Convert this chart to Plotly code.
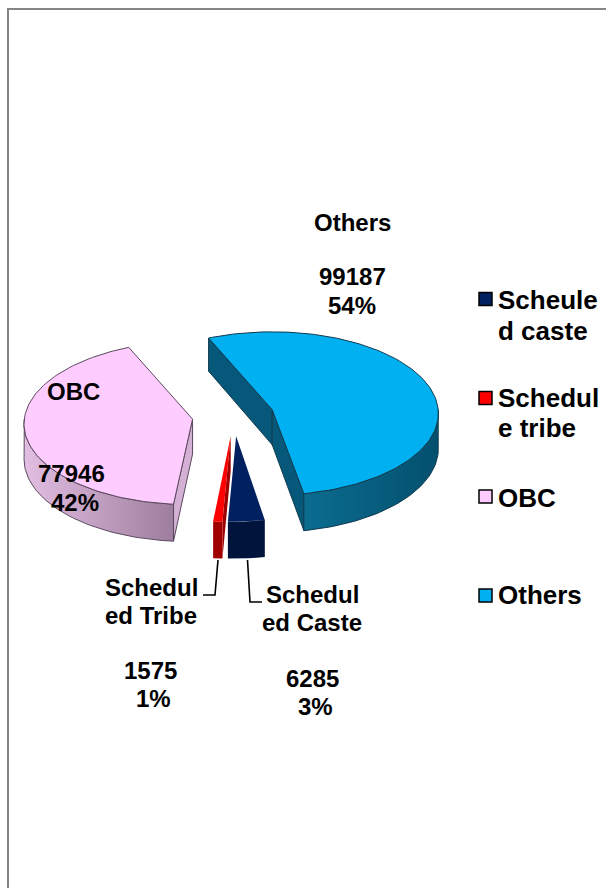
import math
import plotly.graph_objects as go

# ---- data ----
categories = ["Scheduled Caste", "Scheduled Tribe", "OBC", "Others"]
values = [6285, 1575, 77946, 99187]
legend_names = [["Scheule", "d caste"], ["Schedul", "e tribe"], ["OBC"], ["Others"]]
label_names = [["Schedul", "ed Caste"], ["Schedul", "ed Tribe"], ["OBC"], ["Others"]]

top_colors = ["#002060", "#FF0000", "#FFCCFF", "#00B0F0"]
wall_colors = ["#00143C", "#A00000", "#D4B0D4", "#05587A"]
rim_gradients = [("#00143C", "#00143C"), ("#A00000", "#A00000"),
                 ("#E2BEE2", "#9E7E9E"), ("#0A6C90", "#04506E")]
edge_colors = [None, None, "#5A4A5E", "#123A4E"]

# ---- pie geometry ----
CX, CY = 233.0, 415.8
RX, RY = 166.0, 81.5
PERSP = 0.045
PULL_X, PULL_Y = 41.0, 20.5
DEPTH_BACK, DEPTH_FRONT = 33.0, 37.0
FIRST_ANGLE = 169.5
RIM_SKEW = [3.0, 3.0, 4.5, 0.0]  # the front of the rim leans left on the exploded slices

total = sum(values)


def project(apex, deg, down=False, skew=0.0):
    t = math.radians(deg)
    c, s = math.cos(t), math.sin(t)
    k = 1 + PERSP * c
    x = apex[0] + RX * s / k - skew * (1 - c) / 2
    y = apex[1] - RY * c / k
    if down:
        y += DEPTH_BACK + (DEPTH_FRONT - DEPTH_BACK) * (1 - c) / 2
    return x, y


def arc(apex, a0, a1, down=False, skew=0.0):
    n = max(2, int(abs(a1 - a0) / 1.5) + 1)
    return [project(apex, a0 + (a1 - a0) * i / n, down, skew) for i in range(n + 1)]


def poly(pts, **kw):
    xs = [p[0] for p in pts]
    ys = [p[1] for p in pts]
    return go.Scatter(x=xs + xs[:1], y=ys + ys[:1], mode="lines", fill="toself",
                      hoverinfo="skip", showlegend=False, **kw)


fig = go.Figure()
cum = FIRST_ANGLE
slices = []
for i, v in enumerate(values):
    span = v / total * 360
    slices.append((i, cum, cum + span))
    cum += span

for i, a0, a1 in [slices[3], slices[0], slices[1], slices[2]]:
    mid = math.radians((a0 + a1) / 2)
    apex = (CX + PULL_X * math.sin(mid), CY - PULL_Y * math.cos(mid))
    apex_low = (apex[0], apex[1] + (DEPTH_BACK + DEPTH_FRONT) / 2)
    edge = edge_colors[i]
    skew = RIM_SKEW[i]
    line = dict(color=edge or "rgba(0,0,0,0)", width=1)
    # straight cut faces that look towards the viewer
    for ang, visible in ((a0, project(apex, a0, False, skew)[0] < apex[0]),
                         (a1, project(apex, a1, False, skew)[0] > apex[0])):
        if visible:
            fig.add_trace(poly([apex, project(apex, ang, False, skew),
                                project(apex, ang, True, skew), apex_low],
                               fillcolor=wall_colors[i], line=line))
    # outer curved wall, only the part that faces the viewer (both turns of the circle)
    for win0, win1 in ((90, 270), (450, 630)):
        lo, hi = max(a0, win0), min(a1, win1)
        if hi > lo:
            g0, g1 = rim_gradients[i]
            pts = arc(apex, lo, hi, False, skew) + arc(apex, hi, lo, True, skew)
            fig.add_trace(poly(pts, fillcolor=g0, line=line,
                               fillgradient=dict(type="horizontal",
                                                 colorscale=[[0, g0], [1, g1]])))
    # top face
    fig.add_trace(poly([apex] + arc(apex, a0, a1, False, skew),
                       fillcolor=top_colors[i], line=line))

# ---- layout positions for texts ----
LABEL_FONT = dict(family="Liberation Sans", size=24, color="#000000")
LEGEND_FONT = dict(family="Liberation Sans", size=26, color="#000000")
annotations = []


def text(x, y, s, font, anchor="center"):
    annotations.append(dict(x=x, y=y, text=f"<b>{s}</b>", showarrow=False, font=font,
                            xanchor=anchor, yanchor="middle", xref="x", yref="y"))


label_pos = {
    0: [(312, 594), (312, 622), (312, 678), (315, 706)],
    1: [(151, 587), (151, 615), (150.5, 670), (153, 698)],
    2: [(73, 391), (71, 473), (75, 502)],
    3: [(352, 222), (352, 276), (352, 305)],
}
for i, pos in label_pos.items():
    lines = label_names[i] + [str(values[i]), f"{round(values[i] / total * 100)}%"]
    for (x, y), s in zip(pos, lines):
        text(x, y, s, LABEL_FONT)

legend_x_mark, legend_x_text = 485.5, 496
legend_mark_y = [299, 398, 496.5, 595.5]
legend_text_y = [[300, 331], [398, 428], [498], [595]]
fig.add_trace(go.Scatter(x=[legend_x_mark] * 4, y=legend_mark_y, mode="markers",
                         hoverinfo="skip", showlegend=False,
                         marker=dict(symbol="square", size=13, color=top_colors,
                                     line=dict(color="#000000", width=1.5))))
for names, ys in zip(legend_names, legend_text_y):
    for s, y in zip(names, ys):
        text(legend_x_text, y, s, LEGEND_FONT, "left")

# leader lines for the two thin slices
fig.add_trace(go.Scatter(x=[218, 215, 203], y=[560, 595, 595], mode="lines", hoverinfo="skip",
                         showlegend=False, line=dict(color="#000000", width=1.6)))
fig.add_trace(go.Scatter(x=[247.5, 250, 262], y=[560, 602, 602], mode="lines", hoverinfo="skip",
                         showlegend=False, line=dict(color="#000000", width=1.6)))

shapes = [dict(type="line", xref="x", yref="y", x0=8, x1=8, y0=8, y1=888,
               line=dict(color="#868686", width=2)),
          dict(type="line", xref="x", yref="y", x0=7, x1=606, y0=9, y1=9,
               line=dict(color="#868686", width=2))]

fig.update_layout(width=606, height=888, margin=dict(l=0, r=0, t=0, b=0),
                  paper_bgcolor="#FFFFFF", plot_bgcolor="#FFFFFF", showlegend=False,
                  xaxis=dict(range=[0, 606], visible=False, fixedrange=True),
                  yaxis=dict(range=[888, 0], visible=False, fixedrange=True),
                  annotations=annotations, shapes=shapes)

fig.write_html("out.html", config={"displayModeBar": False},
               post_script="document.body.style.margin='0';document.body.style.overflow='hidden';")
